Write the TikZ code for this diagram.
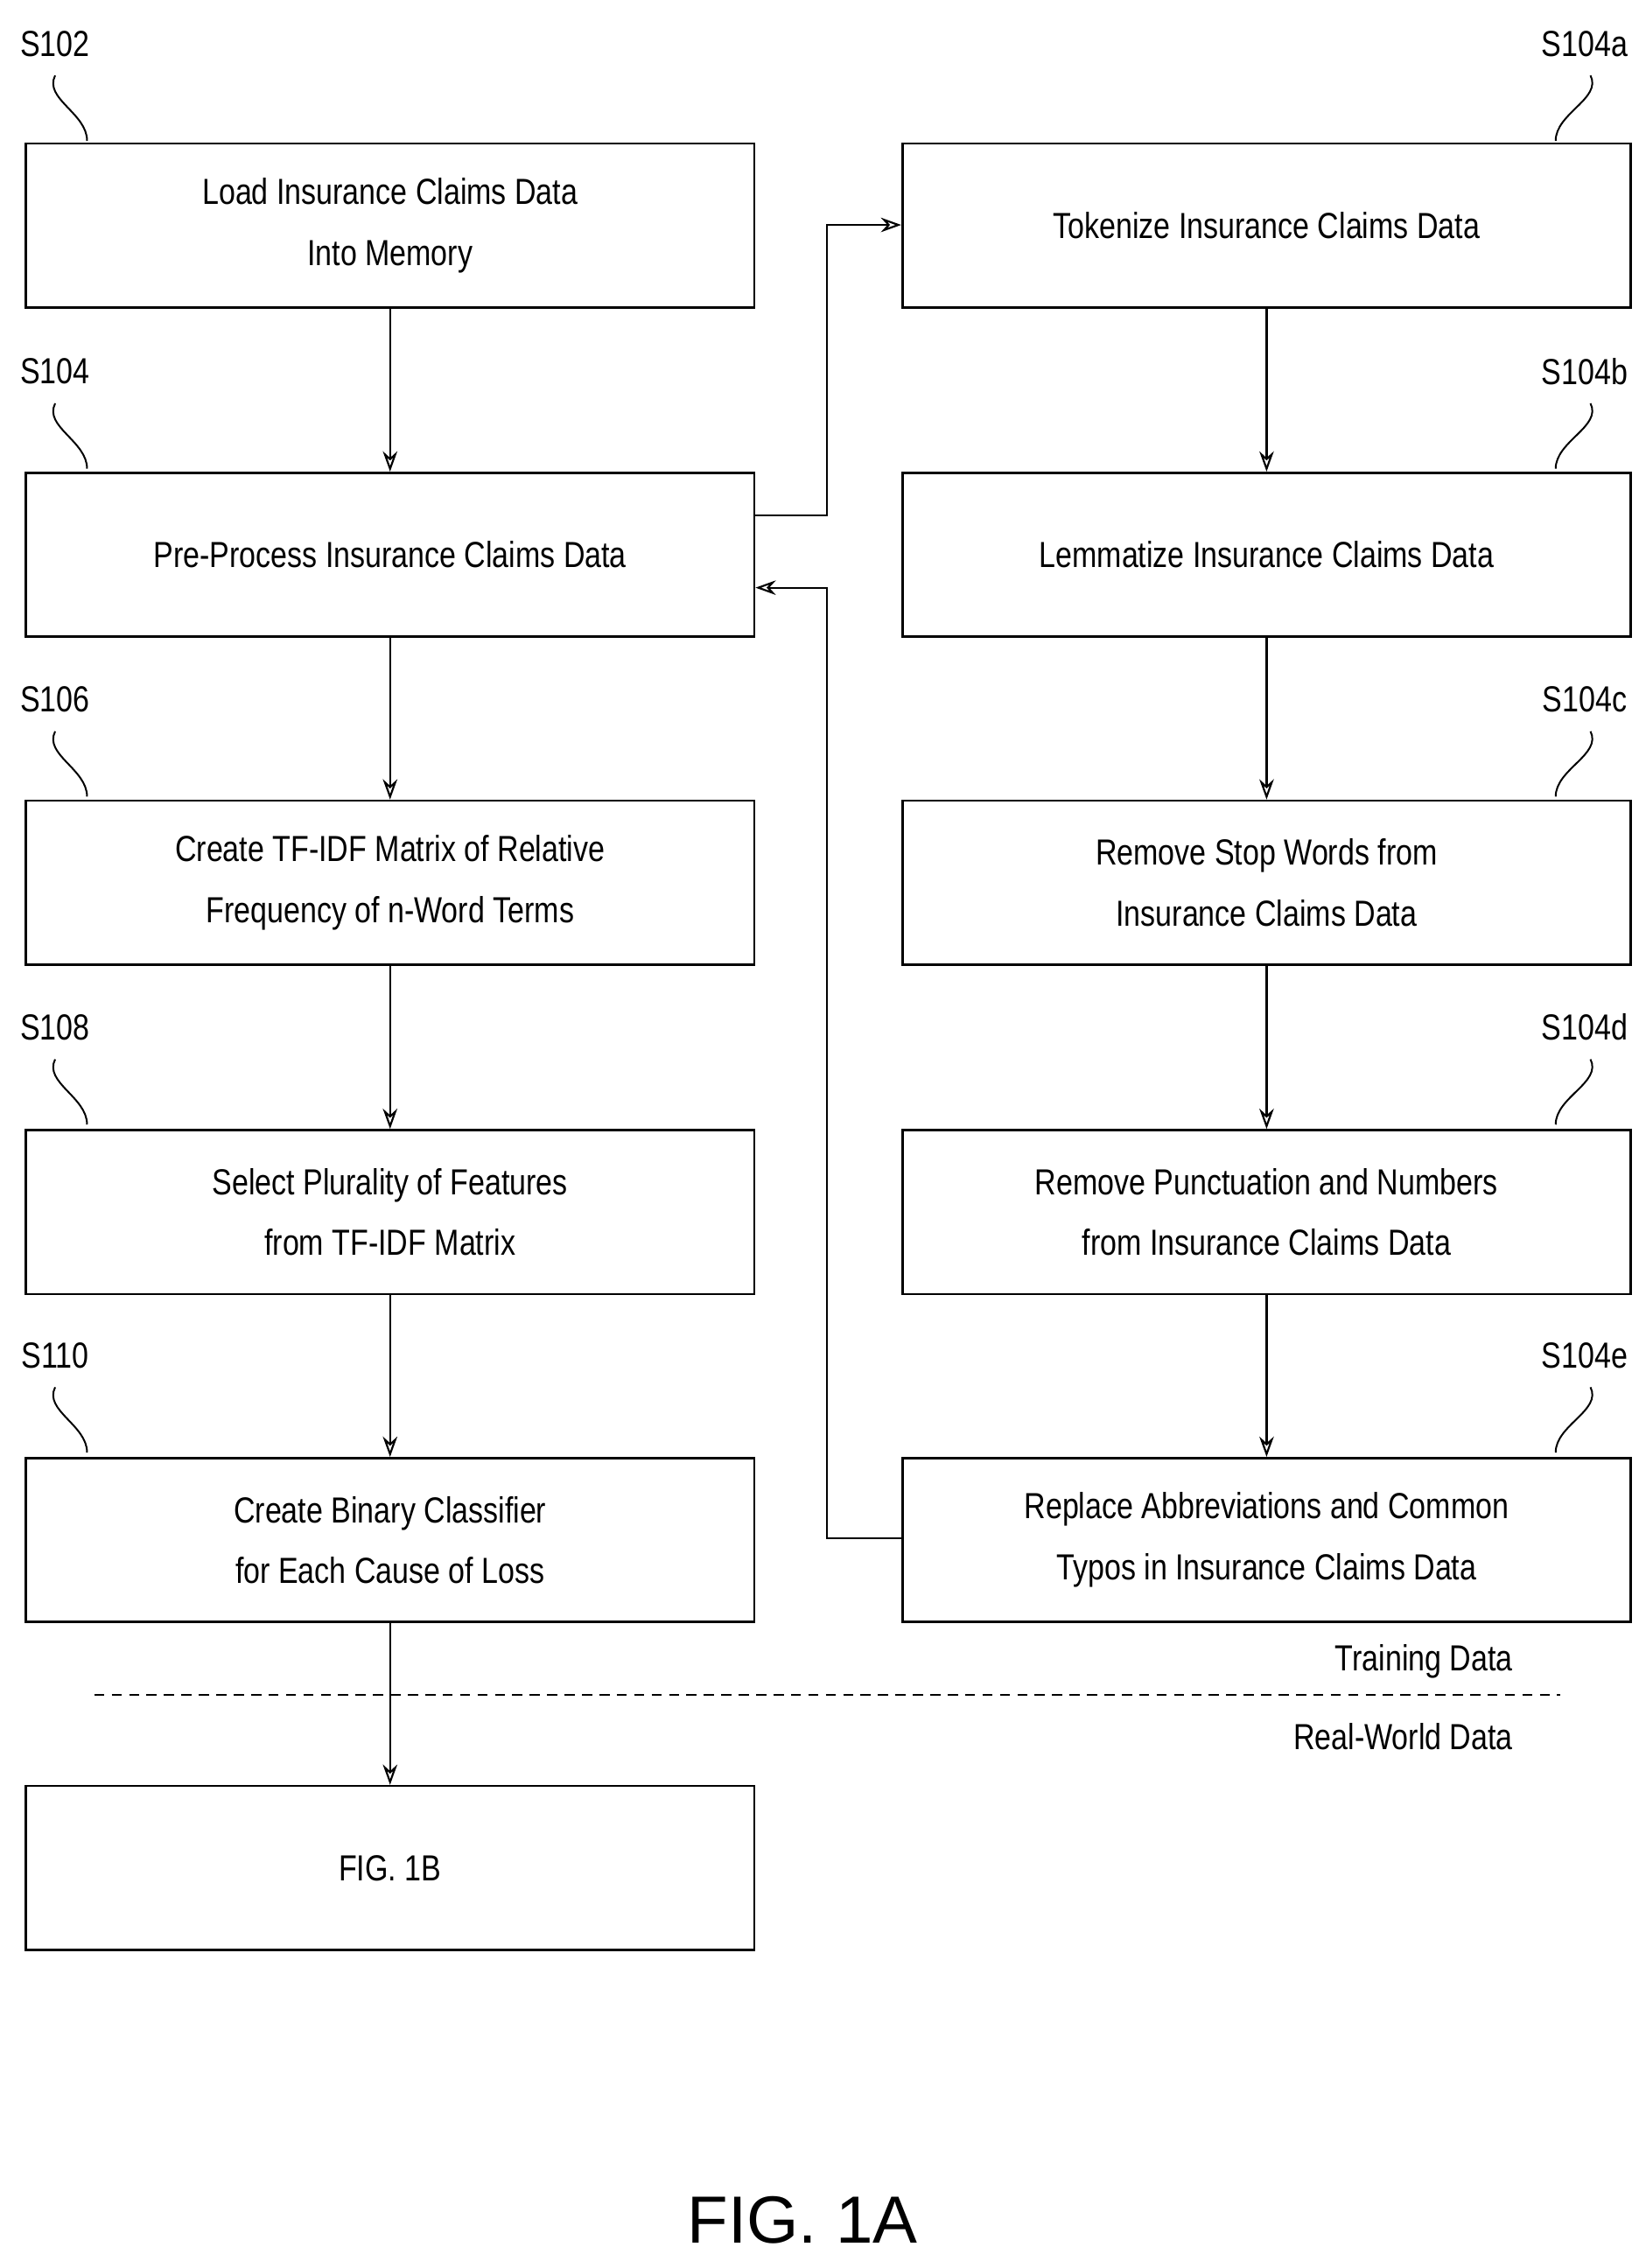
\documentclass[tikz,border=0pt]{standalone}
\usepackage{fontspec}
\setmainfont{Liberation Sans}[FakeStretch=0.82]
\newfontfamily\capfont{Liberation Sans}
\usetikzlibrary{arrows.meta}
\begin{document}
\begin{tikzpicture}[x=1pt,y=-1pt,
 box/.style={draw,line width=1.6pt,minimum width=502pt,minimum height=113pt,align=center,font=\fontsize{25}{42}\selectfont,anchor=north west},
 arr/.style={line width=1.3pt,-{Stealth[length=14pt,width=10pt,open]}},
 lead/.style={line width=1.2pt},
 lab/.style={font=\fontsize{25}{28}\selectfont}]
\useasboundingbox (0,0) rectangle (1134,1563);
\node[box] (b1) at (17,98) {Load Insurance Claims Data\\Into Memory};
\node[box] (b2) at (17,325) {Pre-Process Insurance Claims Data};
\node[box] (b3) at (17,551) {Create TF-IDF Matrix of Relative\\Frequency of n-Word Terms};
\node[box] (b4) at (17,778) {Select Plurality of Features\\from TF-IDF Matrix};
\node[box] (b5) at (17,1004) {Create Binary Classifier\\for Each Cause of Loss};
\node[box] (b6) at (17,1230) {FIG. 1B};
\node[box] (r1) at (621,98) {Tokenize Insurance Claims Data};
\node[box] (r2) at (621,325) {Lemmatize Insurance Claims Data};
\node[box] (r3) at (621,551) {Remove Stop Words from\\Insurance Claims Data};
\node[box] (r4) at (621,778) {Remove Punctuation and Numbers\\from Insurance Claims Data};
\node[box] (r5) at (621,1004) {Replace Abbreviations and Common\\Typos in Insurance Claims Data};
\foreach \n/\t/\y in {l1/S102/30,l2/S104/256,l3/S106/482,l4/S108/708,l5/S110/934}{
 \node[lab] (\n) at (38,\y) {\t};
 \draw[lead] (38,\y+22) .. controls (30,\y+38) and (60,\y+48) .. (60,\y+67);}
\foreach \n/\t/\y in {m1/S104a/30,m2/S104b/256,m3/S104c/482,m4/S104d/708,m5/S104e/934}{
 \node[lab] (\n) at (1092,\y) {\t};
 \draw[lead] (1096,\y+22) .. controls (1104,\y+38) and (1072,\y+48) .. (1072,\y+67);}
\foreach \a/\b in {b1/b2,b2/b3,b3/b4,b4/b5,b5/b6,r1/r2,r2/r3,r3/r4,r4/r5}
 \draw[arr] (\a.south) -- (\b.north);
\coordinate (p1) at (519,355);
\draw[arr] (p1) -| (570,155) -- (r1.west |- 0,155);
\coordinate (p2) at (621,1060);
\draw[arr] (p2) -| (570,405) -- (b2.east |- 0,405);
\coordinate (d1) at (65,1168); \coordinate (d2) at (1075,1168);
\draw[line width=1.1pt,dash pattern=on 7pt off 5pt] (d1) -- (d2);
\node[lab,anchor=east] (td) at (1046,1145) {Training Data};
\node[lab,anchor=east] (rw) at (1046,1197) {Real-World Data};
\node[font=\capfont\fontsize{46}{50}\selectfont] (fig) at (553,1530) {FIG. 1A};
\end{tikzpicture}
\end{document}
